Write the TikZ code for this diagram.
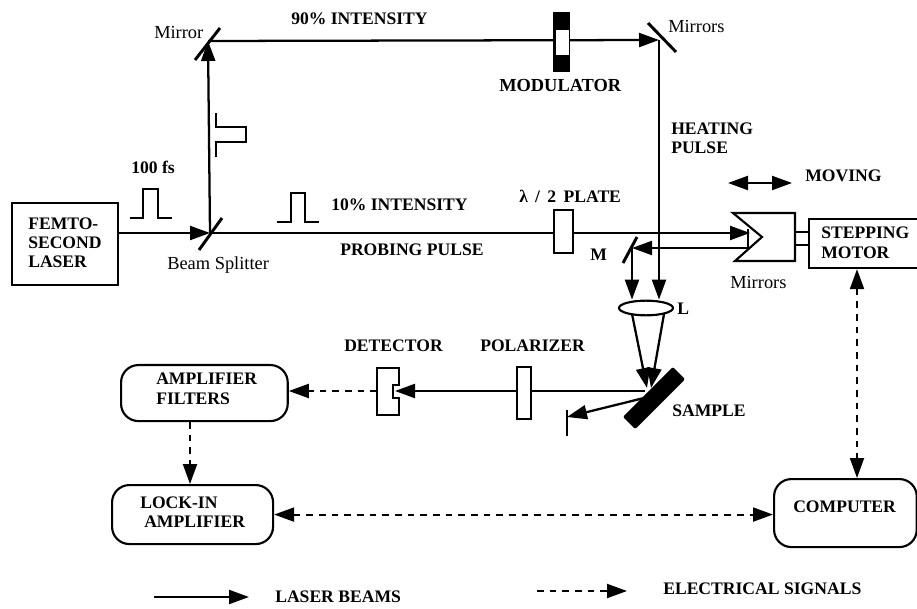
\documentclass[tikz,border=0pt]{standalone}
\usepackage{fontspec}
\setmainfont{Liberation Serif}
\usetikzlibrary{arrows.meta,shapes.geometric}
\pgfdeclarelayer{beams}
\pgfsetlayers{beams,main}
\newcommand{\capsfont}{\fontsize{13.2pt}{14.6pt}\selectfont\bfseries}
\newcommand{\lowfont}{\fontsize{13.8pt}{15pt}\selectfont}
\tikzset{
  x=0.75pt,y=-0.75pt,
  tip/.style={-{Triangle[length=15pt,width=10.5pt]}},
  dtip/.style={{Triangle[length=15pt,width=10.5pt]}-{Triangle[length=15pt,width=10.5pt]}},
  beam/.style={tip,line width=1.7pt},
  elec/.style={line width=1.5pt,dash pattern=on 5pt off 4.5pt},
  lab/.style={inner sep=0pt,anchor=west,font=\capsfont,align=left},
  lowlab/.style={inner sep=0pt,anchor=west,font=\lowfont},
  boxn/.style={draw,inner sep=0pt,anchor=north west},
  roundn/.style={boxn,rounded corners=13pt},
  plate/.style={draw,fill=white,inner sep=0pt,anchor=north west},
  mirror/.style={line width=2.2pt},
  thinl/.style={line width=1.6pt},
}
\begin{document}
\begin{tikzpicture}[line width=1.6pt]
\useasboundingbox (0,0) rectangle (917,609);
\clip (0,0) rectangle (917,609);
% boxes
\node[boxn,minimum width=79.5pt,minimum height=61.5pt] (laser) at (11,202) {};
\node[roundn,minimum width=125pt,minimum height=42pt] (amp) at (120,364) {};
\node[roundn,minimum width=120.75pt,minimum height=44.25pt] (lock) at (111,484) {};
\node[roundn,minimum width=107pt,minimum height=51pt] (comp) at (773,478) {};
\node[boxn,minimum width=90pt,minimum height=36.75pt] (motor) at (808,218) {};
% optics
\node[plate,minimum width=14.25pt,minimum height=32.25pt] (halfplate) at (553,209) {};
\node[plate,minimum width=10.5pt,minimum height=39pt] (polar) at (516,366) {};
\node[draw,fill=white,ellipse,inner sep=0pt,minimum width=40.5pt,minimum height=11pt] (lens) at (646,308) {};
\node[fill=black,rounded corners=1.5pt,rotate=45,inner sep=0pt,minimum width=53pt,minimum height=13pt] (sample) at (654,398) {};
\node[fill=black,inner sep=0pt,anchor=north west,minimum width=12.75pt,minimum height=45pt] (mod) at (552,11) {};
\node[fill=white,inner sep=0pt,anchor=north west,minimum width=9.5pt,minimum height=18.75pt] (modw) at (555,29) {};
% detector
\draw[fill=white] (377,368) -- (399,368) -- (399,385) -- (393,385) -- (393,398) -- (399,398) -- (399,415) -- (377,415) -- cycle;
\coordinate (detIn) at (395,391);
\coordinate (detOut) at (377,391);
% retro-reflector
\draw[fill=white] (733,213) -- (795,213) -- (795,261) -- (735,261) -- (762,237) -- cycle;
\draw[line width=1pt] (748,229) -- (748,248);
\coordinate (retroIn) at (750,231);
\coordinate (retroOut) at (748,248);
\coordinate (retroA) at (795,232); \coordinate (motorA) at (808,232);
\coordinate (retroB) at (795,245); \coordinate (motorB) at (808,245);
\draw (retroA) -- (motorA) (retroB) -- (motorB);
% mirrors
\coordinate (bs) at (210,233);
\coordinate (m1) at (208,41);
\coordinate (m2) at (659,40);
\coordinate (mM) at (632,248);
\coordinate (ax) at (190,0);
\coordinate (cx) at (857,0);
\draw[mirror] (199,250) -- (222,218);
\draw[mirror] (195,60) -- (220,28);
\draw[mirror] (648,23) -- (676,52);
\draw[mirror] (623,263) -- (637,237);
% beams behind
\begin{pgfonlayer}{beams}
\draw[beam] (laser.east |- bs) -- (bs);
\draw[beam] (bs) -- (m1);
\draw[beam] (m1) -- (m2);
\draw[beam] (m2) -- (m2 |- lens.north);
\draw[beam] (bs) -- (bs -| retroIn);
\draw[beam] (retroOut) -- (mM);
\draw[beam] (mM) -- (mM |- lens.north);
\coordinate (focus) at (647,388);
\coordinate (focusB) at (651,388);
\draw[beam] (632,314) -- (focus);
\draw[beam] (664,314) -- (focusB);
\coordinate (hit) at (645,391);
\draw[beam] (hit) -- (detIn);
\coordinate (stop) at (567,417);
\draw[beam] (648,397) -- (stop);
\end{pgfonlayer}
\draw[thinl] (567,410) -- (567,436);
% electrical
\draw[elec,tip] (detOut) -- (amp.east |- detOut);
\draw[elec,tip] (amp.south -| ax) -- (lock.north -| ax);
\draw[elec,dtip] (lock.east) -- (comp.west |- lock.east);
\draw[elec,dtip] (motor.south -| cx) -- (comp.north -| cx);
% pulses
\draw[thinl] (130,218) -- (143,218) -- (143,189) -- (158,189) -- (158,218) -- (172,218);
\draw[thinl] (277,222) -- (291,222) -- (291,193) -- (305,193) -- (305,222) -- (319,222);
\draw[thinl] (216,113) -- (216,127) -- (246,127) -- (246,142) -- (216,142) -- (216,157);
% moving arrow
\coordinate (movL) at (728,183); \coordinate (movR) at (792,183);
\draw[thinl,dtip] (movL) -- (movR);
% labels
\node[lab] (t1) at (28,224) {FEMTO-};
\node[lab] (t2) at (28,243) {SECOND};
\node[lab] (t3) at (28,262) {LASER};
\node[lab] (t4) at (156,379) {AMPLIFIER};
\node[lab] (t5) at (156,399) {FILTERS};
\node[lab] (t6) at (140,503) {LOCK-IN};
\node[lab] (t7) at (144,522) {AMPLIFIER};
\node[lab] (t8) at (793,507) {COMPUTER};
\node[lab] (t9) at (821,233) {STEPPING};
\node[lab] (t10) at (821,253) {MOTOR};
\node[lab] (t11) at (291,19) {90\% INTENSITY};
\node[lab,font=\fontsize{13.8pt}{15pt}\selectfont\bfseries] (t12) at (499,86) {MODULATOR};
\node[lab] (t13) at (671,129) {HEATING};
\node[lab] (t14) at (671,148) {PULSE};
\node[lab] (t15) at (805,176) {MOVING};
\node[lab] (t16) at (519,196) {λ\hspace{2.2pt} /\hspace{2.2pt} 2\hspace{2.2pt} PLATE};
\node[lab] (t17) at (331,205) {10\% INTENSITY};
\node[lab] (t18) at (340,250) {PROBING PULSE};
\node[lab] (t19) at (590,255) {M};
\node[lab] (t20) at (677,309) {L};
\node[lab] (t21) at (344,346) {DETECTOR};
\node[lab] (t22) at (480,346) {POLARIZER};
\node[lab] (t23) at (672,411) {SAMPLE};
\node[lab] (t24) at (275,597) {LASER BEAMS};
\node[lab] (t25) at (663,589) {ELECTRICAL SIGNALS};
\node[lab] (t26) at (131,167) {100 fs};
\node[lowlab] (t27) at (154,33) {Mirror};
\node[lowlab] (t28) at (668,27) {Mirrors};
\node[lowlab] (t29) at (730,282) {Mirrors};
\node[lowlab] (t30) at (167,265) {Beam Splitter};
% legend
\coordinate (legA) at (154,597); \coordinate (legB) at (249,597);
\coordinate (legC) at (537,591); \coordinate (legD) at (627,591);
\draw[beam] (legA) -- (legB);
\draw[elec,tip] (legC) -- (legD);
\end{tikzpicture}
\end{document}
